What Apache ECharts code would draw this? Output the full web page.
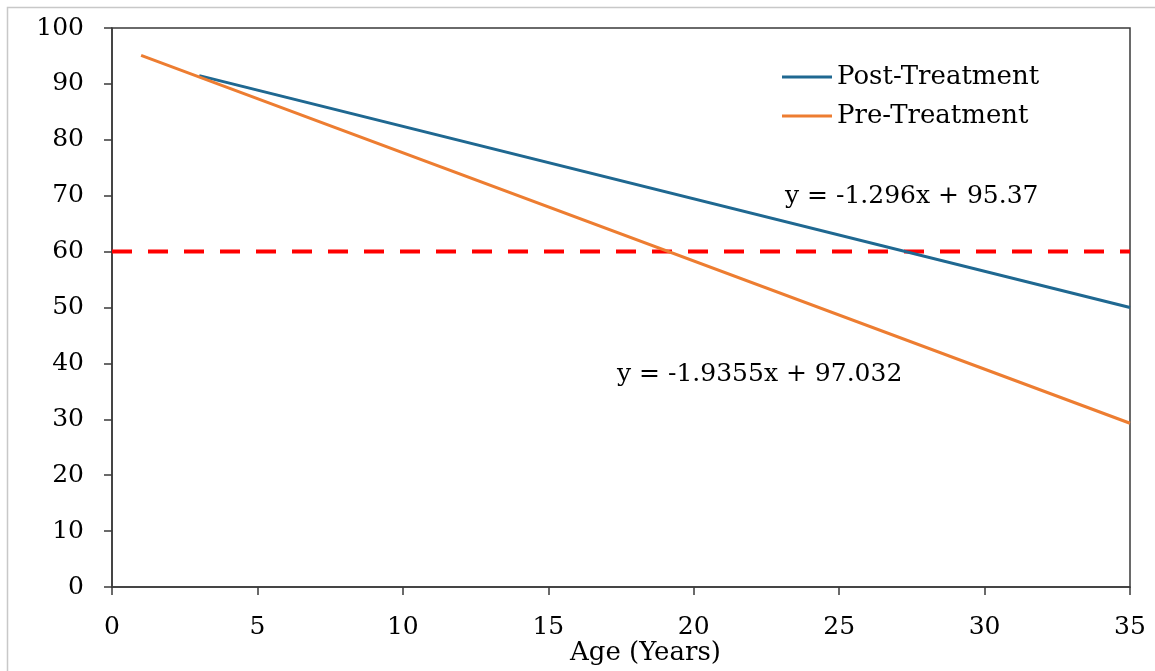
<!DOCTYPE html>
<html>
<head>
<meta charset="utf-8">
<script src="https://cdn.jsdelivr.net/npm/echarts@6/dist/echarts.min.js"></script>
<style>html,body{margin:0;padding:0;background:#fff}#c{width:1155px;height:671px}</style>
</head>
<body>
<div id="c"></div>
<script>
var postTreatment = [[3, 91.48], [35, 50.01]];
var preTreatment = [[1, 95.10], [35, 29.29]];
var threshold = [[0, 60], [35, 60]];
var postEquation = 'y = -1.296x + 95.37';
var preEquation = 'y = -1.9355x + 97.032';
var xName = 'Age (Years)';

var FONT = 'DejaVu Serif';
var chart = echarts.init(document.getElementById('c'));
chart.setOption({
  animation: false,
  backgroundColor: '#fff',
  grid: { left: 112, right: 25, top: 28, bottom: 84, show: true, borderColor: '#3a3a3a', borderWidth: 1.5 },
  legend: {
    orient: 'vertical', left: 782, top: 64, padding: 0, itemWidth: 50, itemHeight: 3, itemGap: 13,
    icon: 'rect',
    textStyle: { fontFamily: FONT, fontSize: 26, color: '#000' },
    data: ['Post-Treatment', 'Pre-Treatment']
  },
  xAxis: {
    type: 'value', min: 0, max: 35, interval: 5,
    axisLine: { lineStyle: { color: '#3a3a3a', width: 1.5 } },
    axisTick: { show: true, length: 8, lineStyle: { color: '#3a3a3a', width: 1.5 } },
    axisLabel: { margin: 28, fontFamily: FONT, fontSize: 25, color: '#000' },
    splitLine: { show: false }
  },
  yAxis: {
    type: 'value', min: 0, max: 100, interval: 10,
    axisLine: { show: true, lineStyle: { color: '#3a3a3a', width: 1.5 } },
    axisTick: { show: true, length: 8, lineStyle: { color: '#3a3a3a', width: 1.5 } },
    axisLabel: { margin: 28, fontFamily: FONT, fontSize: 25, color: '#000' },
    splitLine: { show: false }
  },
  graphic: [
    { type: 'rect', shape: { x: 7.5, y: 7.5, width: 1200, height: 700 }, style: { fill: 'none', stroke: '#c8c8c8', lineWidth: 1.5 }, silent: true, z: -1 },
    { type: 'text', left: 785, top: 184, style: { text: postEquation, fontFamily: FONT, fontSize: 25, fill: '#000' } },
    { type: 'text', left: 617, top: 362, style: { text: preEquation, fontFamily: FONT, fontSize: 25, fill: '#000' } },
    { type: 'text', left: 570, top: 640, style: { text: xName, fontFamily: FONT, fontSize: 26, fill: '#000' } }
  ],
  series: [
    { name: 'Threshold', type: 'line', data: threshold, symbol: 'none', lineStyle: { color: '#ff0000', width: 4, type: [20, 16] }, z: 1 },
    { name: 'Post-Treatment', type: 'line', data: postTreatment, symbol: 'none', color: '#1f6891', lineStyle: { color: '#1f6891', width: 3 }, z: 2 },
    { name: 'Pre-Treatment', type: 'line', data: preTreatment, symbol: 'none', color: '#ed7d31', lineStyle: { color: '#ed7d31', width: 3 }, z: 3 }
  ]
});
</script>
</body>
</html>
